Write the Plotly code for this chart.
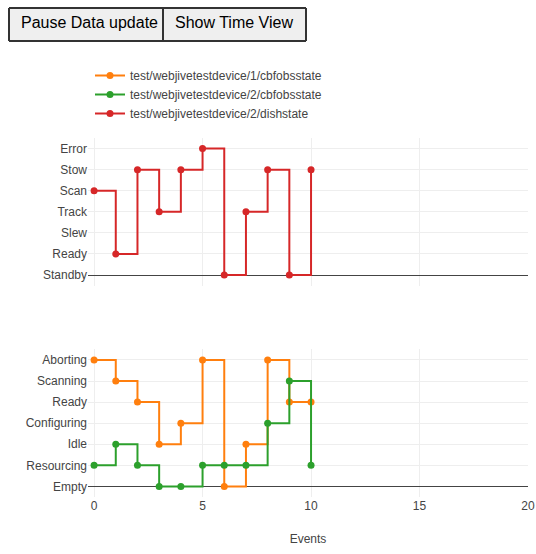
import plotly.graph_objects as go

events = list(range(11))

dish_states = ["Standby", "Ready", "Slew", "Track", "Scan", "Stow", "Error"]
obs_states = ["Empty", "Resourcing", "Idle", "Configuring", "Ready", "Scanning", "Aborting"]

dish_values = ["Scan", "Ready", "Stow", "Track", "Stow", "Error", "Standby",
               "Track", "Stow", "Standby", "Stow"]
cbf1_values = ["Aborting", "Scanning", "Ready", "Idle", "Configuring", "Aborting",
               "Empty", "Idle", "Aborting", "Ready", "Ready"]
cbf2_values = ["Resourcing", "Idle", "Resourcing", "Empty", "Empty", "Resourcing",
               "Resourcing", "Resourcing", "Configuring", "Scanning", "Resourcing"]

names = ["test/webjivetestdevice/1/cbfobsstate",
         "test/webjivetestdevice/2/cbfobsstate",
         "test/webjivetestdevice/2/dishstate"]
colors = ["#ff7f0e", "#2ca02c", "#d62728"]
button_labels = ["Pause Data update", "Show Time View"]

fig = go.Figure()
fig.add_trace(go.Scatter(x=events, y=[obs_states.index(v) for v in cbf1_values],
                         name=names[0], mode="lines+markers", line_shape="hv",
                         line=dict(color=colors[0], width=2), marker=dict(size=7),
                         xaxis="x", yaxis="y"))
fig.add_trace(go.Scatter(x=events, y=[obs_states.index(v) for v in cbf2_values],
                         name=names[1], mode="lines+markers", line_shape="hv",
                         line=dict(color=colors[1], width=2), marker=dict(size=7),
                         xaxis="x", yaxis="y"))
fig.add_trace(go.Scatter(x=events, y=[dish_states.index(v) for v in dish_values],
                         name=names[2], mode="lines+markers", line_shape="hv",
                         line=dict(color=colors[2], width=2), marker=dict(size=7),
                         xaxis="x2", yaxis="y2"))

H = 554 - 137 - 57
W = 536 - 87 - 8
axis_common = dict(gridcolor="#eee", zerolinecolor="#444", zerolinewidth=1,
                   tickfont=dict(size=12, color="#444"), showline=False)

btn_style = dict(type="buttons", direction="right", showactive=False, active=-1,
                 xanchor="left", yanchor="top", pad=dict(l=0, r=0, t=0, b=0),
                 bgcolor="#efefef", bordercolor="#333", borderwidth=2,
                 font=dict(size=16, color="#000",
                           family="Liberation Sans, Arial, sans-serif"))

fig.update_layout(
    template="none",
    width=536, height=554,
    margin=dict(l=87, r=8, t=137, b=57),
    paper_bgcolor="white", plot_bgcolor="white",
    font=dict(family="Liberation Sans, Arial, sans-serif", size=12, color="#444"),
    xaxis=dict(range=[-0.28, 20], tickvals=[0, 5, 10, 15, 20], anchor="y",
               title=dict(text="Events", font=dict(size=12, color="#444")),
               zeroline=False, **axis_common),
    xaxis2=dict(range=[-0.28, 20], tickvals=[0, 5, 10, 15, 20], anchor="y2",
                matches="x", showticklabels=False, zeroline=False, **axis_common),
    yaxis=dict(domain=[0, 148 / H], range=[-0.5, 6.5], tickvals=list(range(7)),
               ticktext=obs_states, zeroline=True, **axis_common),
    yaxis2=dict(domain=[1 - 148 / H, 1], range=[-0.5, 6.5], tickvals=list(range(7)),
                ticktext=dish_states, zeroline=True, **axis_common),
    legend=dict(x=3 / W, xanchor="left", y=1 + (137 - 61) / H, yanchor="top",
                font=dict(size=12, color="#444"), bgcolor="rgba(0,0,0,0)",
                tracegroupgap=0),
    updatemenus=[
        dict(x=(7 - 87) / W, y=1 + (137 - 6) / H,
             buttons=[dict(label=button_labels[0], method="skip", args=[None])],
             **btn_style),
        dict(x=(161 - 87) / W, y=1 + (137 - 6) / H,
             buttons=[dict(label=button_labels[1], method="skip", args=[None])],
             **btn_style),
    ],
)

fig.write_html("out.html")
